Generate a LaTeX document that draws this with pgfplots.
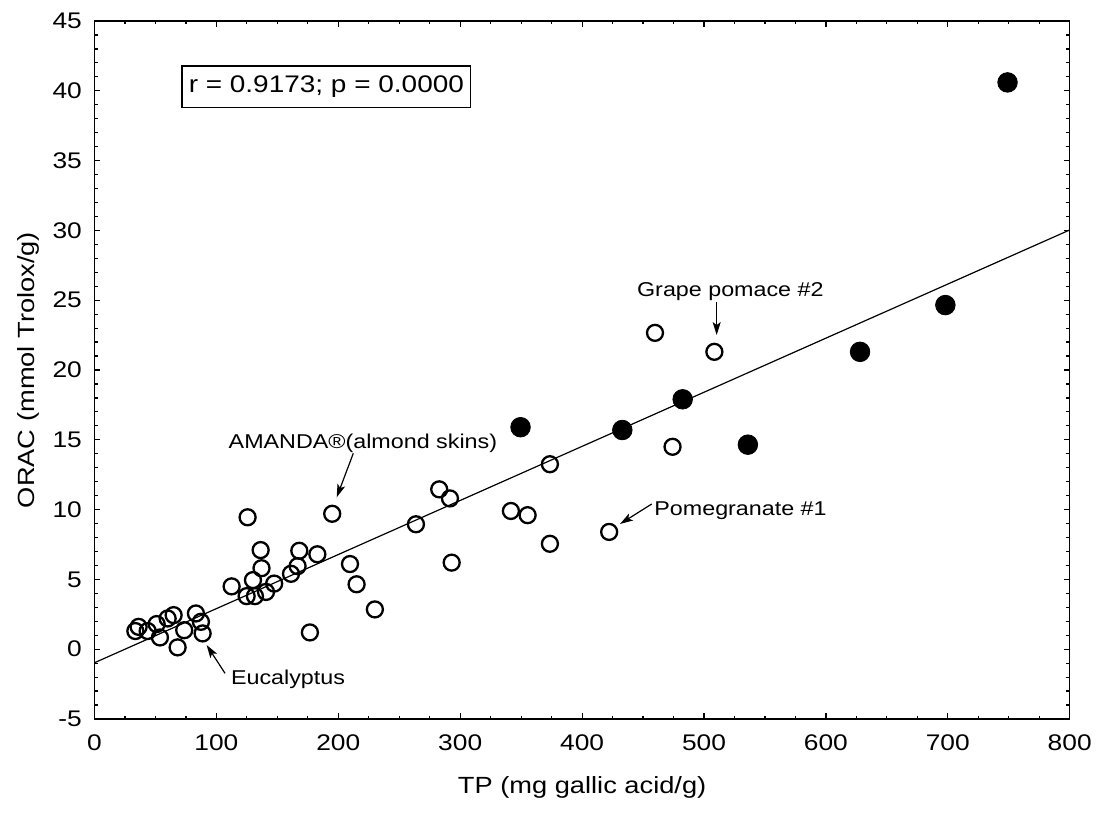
\documentclass[border=0pt]{standalone}
\usepackage{fontspec}
\setmainfont{Liberation Sans}[FakeStretch=1.165]
\usepackage{pgfplots}
\pgfplotsset{compat=1.18}
\usetikzlibrary{arrows.meta}

\pgfplotstableread{
x y
459.8 22.66
508.5 21.30
474.2 14.50
373.6 13.25
282.8 11.45
291.6 10.80
263.7 8.95
341.6 9.90
355.3 9.60
422.2 8.40
373.6 7.55
293.0 6.20
195.0 9.70
125.6 9.45
136.3 7.10
168.0 7.05
182.8 6.80
137.0 5.80
166.6 5.95
161.2 5.40
209.6 6.10
215.0 4.65
230.0 2.85
112.5 4.50
130.0 4.95
147.4 4.70
124.8 3.80
131.6 3.80
140.7 4.10
176.7 1.20
33.5 1.30
36.2 1.60
43.6 1.30
51.0 1.80
53.7 0.84
60.0 2.20
64.9 2.44
73.6 1.36
68.2 0.13
83.2 2.56
87.3 1.96
88.7 1.13
}\opentable

\pgfplotstableread{
x y
349.5 15.90
433.0 15.70
482.5 17.90
536.0 14.65
628.0 21.30
698.0 24.65
749.0 40.60
}\filledtable

\newcommand\annfont{\fontsize{10}{12}\selectfont}

\begin{document}
\begin{tikzpicture}
\path[use as bounding box] (-47.25pt,-49pt) rectangle (503.75pt,359.5pt);
\begin{axis}[
  at={(0,0)}, anchor=south west,
  scale only axis, width=487.6pt, height=349pt,
  xmin=0, xmax=800, ymin=-5, ymax=45,
  xtick={0,100,...,800}, xticklabels={0,100,200,300,400,500,600,700,800},
  ytick={-5,0,...,45}, yticklabels={-5,0,5,10,15,20,25,30,35,40,45},
  minor x tick num=3, minor y tick num=4,
  tick align=inside, major tick length=3pt, minor tick length=1.7pt,
  every tick/.style={black, line width=0.6pt},
  axis line style={line width=0.75pt},
  tick label style={font=\fontsize{11.3}{13}\selectfont},
  xticklabel style={yshift=-4.2pt},
  yticklabel style={xshift=-2.8pt},
  xlabel={TP (mg gallic acid/g)},
  ylabel={ORAC (mmol Trolox/g)},
  label style={font=\fontsize{11.7}{13}\selectfont},
  xlabel style={at={(axis description cs:0.5,-0.098)}, anchor=center},
  ylabel style={at={(axis description cs:-0.0676,0.5)}, anchor=center},
]
\addplot[black, line width=0.6pt] coordinates {(0,-0.97) (800,30.03)};
\addplot[only marks, mark=o, mark size=4.0pt, mark options={line width=1.15pt, draw=black}] table {\opentable};
\addplot[only marks, mark=*, mark size=4.9pt, mark options={line width=0.4pt, draw=black, fill=black}] table {\filledtable};

\node[draw, line width=0.6pt, minimum width=144.35pt, minimum height=20.85pt, inner sep=0, font=\fontsize{12}{14}\selectfont]
  at (axis cs:190.2,40.28) {r = 0.9173; p = 0.0000};

\node[anchor=base west, inner sep=0, font=\annfont] at (axis cs:109.8,14.39) {AMANDA®(almond skins)};
\draw[-{Stealth[length=6.5pt,width=4pt,inset=1.5pt]}, line width=0.6pt] (axis cs:212.3,14.03) -- (axis cs:198.7,10.88);

\node[anchor=base west, inner sep=0, font=\annfont] at (axis cs:444.8,25.3) {Grape pomace \#2};
\draw[-{Stealth[length=6.5pt,width=4pt,inset=1.5pt]}, line width=0.6pt] (axis cs:510.4,24.9) -- (axis cs:510.4,22.5);

\node[anchor=base west, inner sep=0, font=\annfont] at (axis cs:459,9.61) {Pomegranate \#1};
\draw[-{Stealth[length=6.5pt,width=4pt,inset=1.5pt]}, line width=0.6pt] (axis cs:457.1,10.4) -- (axis cs:431.1,8.97);

\node[anchor=base west, inner sep=0, font=\annfont] at (axis cs:111.7,-2.51) {Eucalyptus};
\draw[-{Stealth[length=6.5pt,width=4pt,inset=1.5pt]}, line width=0.6pt] (axis cs:107.1,-1.73) -- (axis cs:92.0,0.3);
\end{axis}
\end{tikzpicture}
\end{document}
